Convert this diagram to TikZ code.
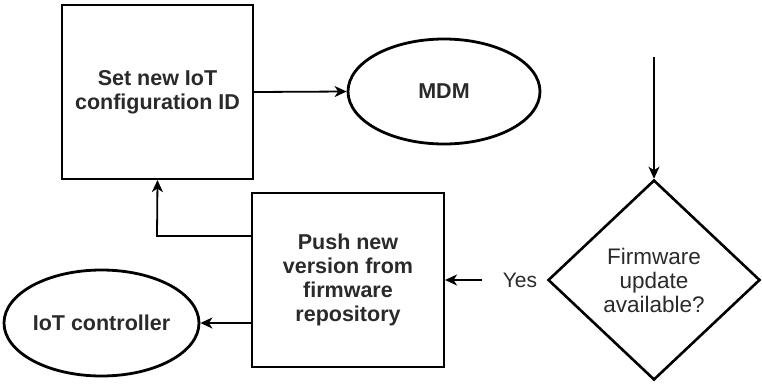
\documentclass[tikz,border=0pt]{standalone}
\usepackage{fontspec}
\setmainfont{Liberation Sans}
\usetikzlibrary{shapes.geometric,arrows.meta}
\definecolor{ink}{HTML}{2A2A2A}
\tikzset{
  x=1pt, y=-1pt,
  lbl/.style={font=\bfseries\fontsize{21.5}{24}\selectfont, text=ink, align=center},
  plainlbl/.style={font=\fontsize{22.5}{24}\selectfont, text=ink, align=center},
  box/.style={draw=black, line width=2.1pt, inner sep=0pt, lbl},
  oval/.style={draw=black, ellipse, line width=2.8pt, inner sep=0pt, lbl},
  choice/.style={draw=black, diamond, line width=2.6pt, inner sep=0pt, plainlbl},
  flow/.style={draw=black, line width=1.8pt, -{Stealth[length=12pt, width=11pt, inset=3.5pt]}}
}
\begin{document}
\begin{tikzpicture}
\useasboundingbox (0,0) rectangle (762,383);
% process boxes
\node[box, minimum width=191pt, minimum height=174pt] (setid) at (157.5,92) {Set new IoT\\configuration ID};
\node[box, minimum width=192pt, minimum height=174pt] (push) at (348,280) {Push new\\version from\\firmware\\repository};
% terminals
\node[oval, minimum width=192pt, minimum height=105pt] (mdm) at (444,91.5) {MDM};
\node[oval, minimum width=195pt, minimum height=106pt] (ctrl) at (101.5,323) {IoT controller};
% decision
\node[choice, minimum width=212pt, minimum height=200pt] (fw) at (654,280) {Firmware\\update\\available?};
\node[plainlbl, font=\fontsize{21}{24}\selectfont] (yes) at (520,280) {Yes};
\coordinate (entry) at (654,57);
\coordinate (yesend) at (482,280);
% connectors
\draw[flow] (setid.east) -- (mdm.west);
\draw[flow] (entry) -- (fw.north);
\draw[flow] (yesend) -- (push.east);
\draw[flow] (push.west |- 0,236) -- (157,236) -- (setid.south);
\draw[flow] (push.west |- ctrl.east) -- (ctrl.east);
\end{tikzpicture}
\end{document}
